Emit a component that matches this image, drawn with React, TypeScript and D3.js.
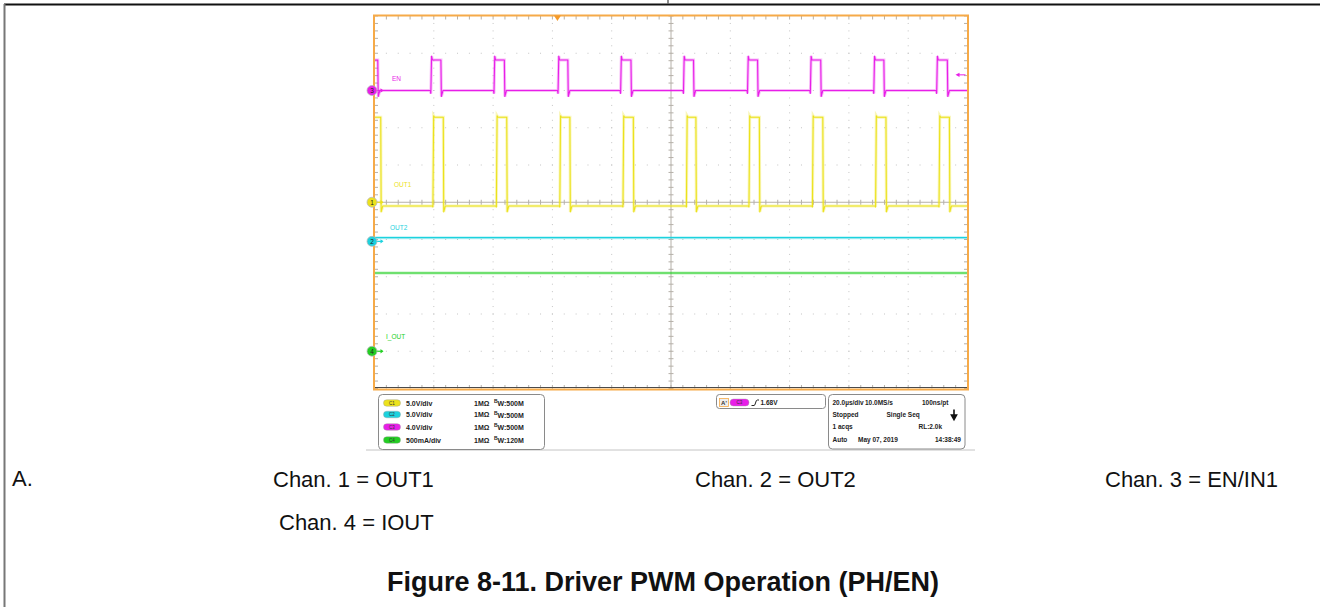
import * as d3 from 'd3';

const W = 1320, H = 607;

// scope settings (time in µs, 10 div x 10 div)
const TIME_SPAN = 200;
const CH_LABELS = ['C1', 'C2', 'C3', 'C4'];
const CH_COLORS = ['#ece21c', '#1cd2de', '#e81ee8', '#22cf22'];
const CH_VDIV = [5, 5, 4, 0.5];
const CH_OFFSET = [0, -1.05, 3, -4];
const CH_SCALE_TEXT = ['5.0V/div', '5.0V/div', '4.0V/div', '500mA/div'];
const CH_BW = ['500M', '500M', '500M', '120M'];
const TRACE_NAMES = ['OUT1', 'OUT2', 'EN', 'I_OUT'];

// EN (ch3) edges, µs
const EN_RISE = [-2.2, 19.1, 40.4, 62.0, 83.1, 104.3, 125.9, 147.1, 168.5, 189.7];
const EN_FALL = [1.1, 22.4, 43.8, 65.2, 86.5, 107.6, 129.2, 150.5, 171.8, 193.2];
const EN_LEVELS = { low: 0, high: 3.27, under: -0.65, over: 3.7 };

// OUT1 (ch1) edges, µs
const OUT1_RISE = [-1.4, 19.8, 41.2, 62.6, 83.9, 105.3, 126.4, 147.8, 169.1, 190.5];
const OUT1_FALL = [2.1, 23.2, 44.6, 65.9, 87.3, 108.4, 129.8, 151.2, 172.5, 193.9];
const OUT1_LEVELS = { low: -0.5, high: 11.4, under: -1.3, over: 11.6 };

const OUT2_LEVEL = 0.5;
const IOUT_LEVEL = 1.05;
const TRIG_TIME = 61.7;
const TRIG_LEVEL = 1.68;

const INFO_RIGHT = [
  ['20.0µs/div', '10.0MS/s', '100ns/pt'],
  ['Stopped', 'Single Seq', ''],
  ['1 acqs', '', 'RL:2.0k'],
  ['Auto', 'May 07, 2019', '14:38:49'],
];

const NOTES = ['Chan. 1 = OUT1', 'Chan. 2 = OUT2', 'Chan. 3 = EN/IN1', 'Chan. 4 = IOUT'];
const TITLE = 'Figure 8-11. Driver PWM Operation (PH/EN)';

const FONT = '"Liberation Sans", Arial, sans-serif';

const xDiv = d3.scaleLinear().domain([0, 10]).range([374.5, 967.5]);
const yDiv = d3.scaleLinear().domain([-5, 5]).range([388.5, 16]);
const xT = d3.scaleLinear().domain([0, TIME_SPAN]).range([374.5, 967.5]);
const yCh = (ch: number) => (v: number) => yDiv(CH_OFFSET[ch] + v / CH_VDIV[ch]);

type Pt = [number, number];

function pulseTrace(rises: number[], falls: number[], lv: { low: number; high: number; under: number; over: number }): Pt[] {
  const pts: Pt[] = [[-6, lv.low]];
  rises.forEach((r, i) => {
    const f = falls[i];
    pts.push([r - 0.3, lv.low], [r - 0.1, lv.under * 0.5], [r + 0.15, lv.over], [r + 0.45, lv.high]);
    pts.push([f, lv.high], [f + 0.15, lv.under], [f + 0.7, lv.low]);
  });
  pts.push([TIME_SPAN + 5, lv.low]);
  return pts;
}

const minor = d3.range(0, 10.001, 0.2);

const App = () => {
  const line = (ch: number) =>
    d3.line<Pt>().x((d) => xT(d[0])).y((d) => yCh(ch)(d[1]));

  const traces = [
    { ch: 2, pts: pulseTrace(EN_RISE, EN_FALL, EN_LEVELS) },
    { ch: 0, pts: pulseTrace(OUT1_RISE, OUT1_FALL, OUT1_LEVELS) },
    { ch: 1, pts: [[-5, OUT2_LEVEL], [TIME_SPAN + 5, OUT2_LEVEL]] as Pt[] },
    { ch: 3, pts: [[-5, IOUT_LEVEL], [TIME_SPAN + 5, IOUT_LEVEL]] as Pt[] },
  ];

  const x0 = xDiv(0), x1 = xDiv(10), y0 = yDiv(5), y1 = yDiv(-5);
  const cx = xDiv(5), cy = yDiv(0);

  const labelPos: Record<number, [number, number]> = { 2: [392, 81], 0: [394, 187], 1: [390, 230], 3: [386, 339] };

  const rowY = [403, 414.5, 427, 440];

  return (
    <svg width={W} height={H} style={{ position: 'absolute', left: 0, top: 0, background: '#fff' }} fontFamily={FONT}>
      {/* page frame */}
      <line x1={4} x2={W} y1={4.5} y2={4.5} stroke="#111" strokeWidth={2} />
      <line x1={4.5} x2={4.5} y1={4} y2={H} stroke="#777" strokeWidth={2} />
      <line x1={668} x2={668} y1={0} y2={4} stroke="#666" strokeWidth={1.5} />

      <defs>
        <clipPath id="grat">
          <rect x={x0} y={y0} width={x1 - x0} height={y1 - y0} />
        </clipPath>
      </defs>

      {/* dotted grid */}
      <g fill="#c4c4c4">
        {d3.range(1, 10).filter((i) => i !== 5).map((i) =>
          minor.map((m) => (
            <rect key={`v${i}-${m}`} x={xDiv(i) - 0.5} y={yDiv(m - 5) - 0.5} width={1} height={1} />
          )))}
        {d3.range(1, 10).filter((i) => i !== 5).map((i) =>
          minor.map((m) => (
            <rect key={`h${i}-${m}`} x={xDiv(m) - 0.5} y={yDiv(i - 5) - 0.5} width={1} height={1} />
          )))}
      </g>

      {/* center axes and edge ticks */}
      <g stroke="#b5b0a8" strokeWidth={1}>
        <line x1={x0} x2={x1} y1={cy} y2={cy} />
        <line x1={cx} x2={cx} y1={y0} y2={y1} />
        {minor.map((m) => (
          <g key={`t${m}`}>
            <line x1={xDiv(m)} x2={xDiv(m)} y1={y0} y2={y0 + 3.5} />
            <line x1={xDiv(m)} x2={xDiv(m)} y1={y1} y2={y1 - 3.5} />
            <line x1={xDiv(m)} x2={xDiv(m)} y1={cy - 2.5} y2={cy + 2.5} />
            <line x1={x0} x2={x0 + 3.5} y1={yDiv(m - 5)} y2={yDiv(m - 5)} />
            <line x1={x1} x2={x1 - 3.5} y1={yDiv(m - 5)} y2={yDiv(m - 5)} />
            <line x1={cx - 2.5} x2={cx + 2.5} y1={yDiv(m - 5)} y2={yDiv(m - 5)} />
          </g>
        ))}
      </g>

      {/* traces */}
      <g clipPath="url(#grat)" fill="none">
        {traces.map((t) => (
          <g key={t.ch}>
            <path d={line(t.ch)(t.pts) ?? ''} stroke={CH_COLORS[t.ch]} strokeWidth={3} opacity={0.3} />
            <path d={line(t.ch)(t.pts) ?? ''} stroke={CH_COLORS[t.ch]} strokeWidth={1.1} strokeLinejoin="round" />
          </g>
        ))}
      </g>

      {/* trace names */}
      {[2, 0, 1, 3].map((ch) => (
        <text key={`n${ch}`} x={labelPos[ch][0]} y={labelPos[ch][1]} fontSize={6.5} fill={CH_COLORS[ch]}>
          {TRACE_NAMES[ch]}
        </text>
      ))}

      {/* frame */}
      <line x1={x0} x2={x1} y1={y1 - 1} y2={y1 - 1} stroke="#4a4a4a" strokeWidth={1.2} />
      <rect x={x0 - 0.5} y={y0 - 0.5} width={x1 - x0 + 1} height={y1 - y0 + 1.5} fill="none" stroke="#f6aa48" strokeWidth={2} />

      {/* trigger position + level */}
      <path d={`M${xT(TRIG_TIME) - 3.5},${y0 - 0.5} L${xT(TRIG_TIME) + 3.5},${y0 - 0.5} L${xT(TRIG_TIME)},${y0 + 5}Z`} fill="#f49a2a" />
      <g stroke={CH_COLORS[2]} fill={CH_COLORS[2]}>
        <line x1={x1 - 2} x2={x1 - 10} y1={yCh(2)(TRIG_LEVEL)} y2={yCh(2)(TRIG_LEVEL)} strokeWidth={1} />
        <path d={`M${x1 - 12},${yCh(2)(TRIG_LEVEL)} l4,-2.2 l0,4.4Z`} stroke="none" />
      </g>

      {/* channel ground markers */}
      {[2, 0, 1, 3].map((ch) => {
        const y = yCh(ch)(0);
        return (
          <g key={`m${ch}`}>
            <path d={`M${x0 + 2},${y} l6,0`} stroke={CH_COLORS[ch]} strokeWidth={1.2} />
            <path d={`M${x0 + 9},${y} l-3,-2.2 l0,4.4Z`} fill={CH_COLORS[ch]} />
            <circle cx={x0 - 2.5} cy={y} r={5} fill={CH_COLORS[ch]} stroke="#b9b9b9" strokeWidth={0.8} />
            <text x={x0 - 2.5} y={y + 2.3} fontSize={6.5} textAnchor="middle" fill="#222">{ch + 1}</text>
          </g>
        );
      })}

      {/* bottom readout */}
      <line x1={366} x2={975} y1={450} y2={450} stroke="#c4c4c4" strokeWidth={1} />
      <rect x={378.5} y={394.5} width={166} height={55} rx={4} fill="#fff" stroke="#8a8a8a" strokeWidth={1} />
      {CH_LABELS.map((c, i) => (
        <g key={`r${c}`} fontWeight="bold" fontSize={7} fill="#222">
          <rect x={383.5} y={rowY[i] - 3.3} width={17} height={6.6} rx={3.3} fill={CH_COLORS[i]} stroke="#999" strokeWidth={0.4} />
          <text x={392} y={rowY[i] + 1.7} fontSize={4.5} textAnchor="middle" fill="#333" fontWeight="normal">{c}</text>
          <text x={406} y={rowY[i] + 2.5}>{CH_SCALE_TEXT[i]}</text>
          <text x={474} y={rowY[i] + 2.5}>1MΩ</text>
          <text x={494} y={rowY[i] + 0.3} fontSize={5}>B</text>
          <text x={497.5} y={rowY[i] + 3}>W:{CH_BW[i]}</text>
        </g>
      ))}

      <rect x={716.5} y={394.5} width={109} height={14} rx={3} fill="#fff" stroke="#8a8a8a" strokeWidth={1} />
      <rect x={719.5} y={398.5} width={9} height={8} fill="#eee" stroke="#f6aa48" strokeWidth={0.8} />
      <text x={724} y={405} fontSize={6} textAnchor="middle" fontWeight="bold" fill="#333">A'</text>
      <rect x={730} y={399} width={19} height={7} rx={3.5} fill={CH_COLORS[2]} stroke="#999" strokeWidth={0.4} />
      <text x={739.5} y={404.3} fontSize={4.5} textAnchor="middle" fill="#333">C3</text>
      <path d="M751.5,405.5 L754,405.5 Q755,405.5 755.5,403 Q756,400 757.5,400 L759,400" fill="none" stroke="#222" strokeWidth={1} />
      <text x={760.5} y={404.8} fontSize={6.5} fontWeight="bold" fill="#222">{`${TRIG_LEVEL.toFixed(2)}V`}</text>

      <rect x={828.5} y={394.5} width={136.5} height={54.5} rx={4} fill="#fff" stroke="#8a8a8a" strokeWidth={1} />
      {INFO_RIGHT.map((row, i) => (
        <g key={`i${i}`} fontWeight="bold" fontSize={6.5} fill="#222">
          <text x={832.5} y={rowY[i] + 2.3}>{row[0]}</text>
          <text x={i === 1 ? 886.5 : i === 0 ? 865 : 858} y={rowY[i] + 2.3}>{row[1]}</text>
          <text x={i === 0 ? 922 : i === 2 ? 942 : 961} y={rowY[i] + 2.3} textAnchor={i === 0 ? 'start' : 'end'}>{row[2]}</text>
        </g>
      ))}
      <path d="M954,409.5 L954,416 M951.5,415 L954,419.5 L956.5,415Z" stroke="#111" strokeWidth={1.6} fill="#111" />

      {/* notes */}
      <g fontSize={22} fill="#111">
        <text x={12} y={486}>A.</text>
        <text x={273} y={487}>{NOTES[0]}</text>
        <text x={695} y={487}>{NOTES[1]}</text>
        <text x={1105} y={487}>{NOTES[2]}</text>
        <text x={279} y={530}>{NOTES[3]}</text>
      </g>
      <text x={663} y={591} fontSize={27} fontWeight="bold" textAnchor="middle" fill="#111">{TITLE}</text>
    </svg>
  );
};

export default App;
